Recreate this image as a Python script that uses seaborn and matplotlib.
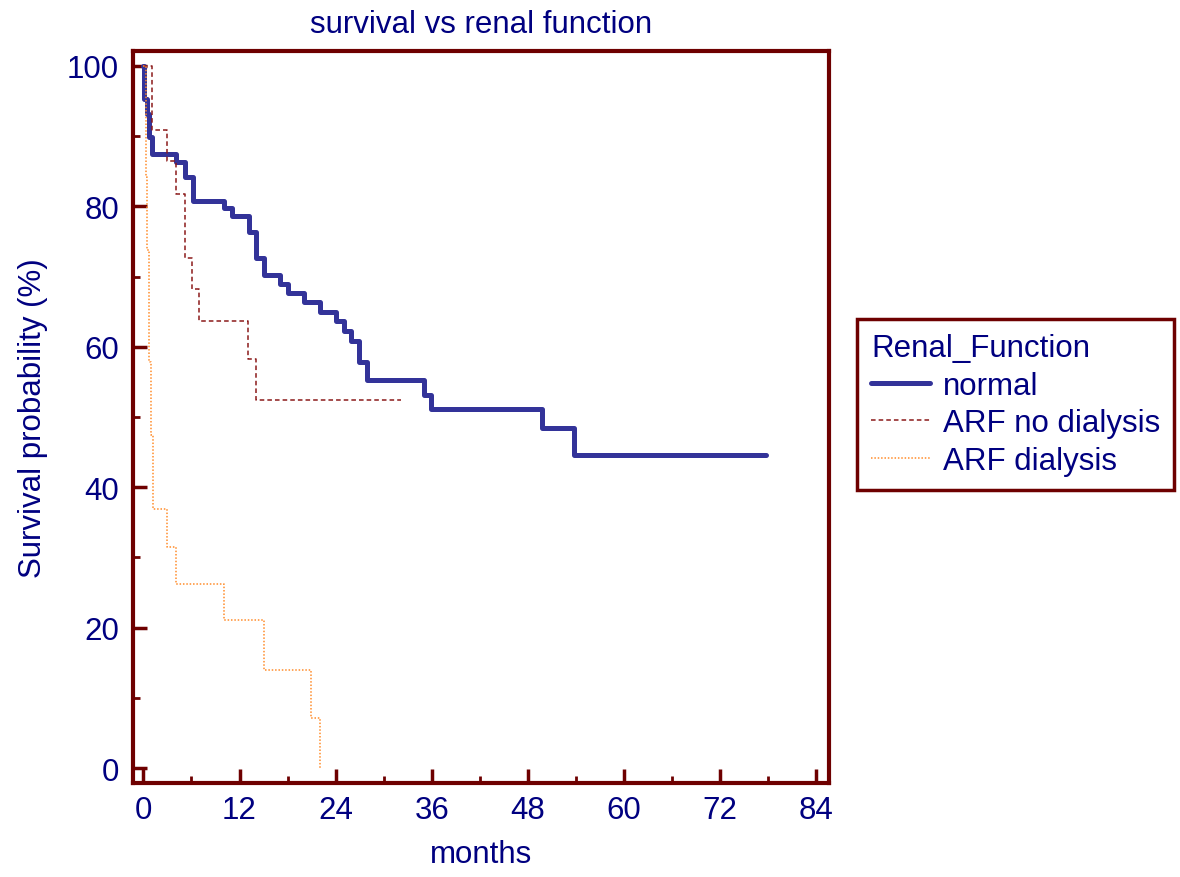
import matplotlib
matplotlib.use("Agg")
import matplotlib.pyplot as plt
from matplotlib.ticker import MultipleLocator
import seaborn as sns
import pandas as pd

# ---- data ----
normal_months = [0, 0.1, 0.4, 0.7, 1.06, 4.05, 5.2, 6.25, 10.06, 11.0, 13.2, 14.1, 15.0,
                 17.0, 18.0, 20.0, 22.0, 24.1, 25.0, 25.9, 26.9, 27.9, 35.0, 35.9,
                 49.8, 53.8, 77.7]
normal_surv = [100, 95.3, 93.2, 89.8, 87.4, 86.3, 84.2, 80.8, 79.7, 78.6, 76.3, 72.7, 70.2,
               69.0, 67.7, 66.4, 65.0, 63.7, 62.2, 60.8, 57.9, 55.3, 53.2, 51.1,
               48.5, 44.6, 44.6]

nodial_months = [0, 1.06, 3.0, 4.05, 5.2, 6.1, 7.0, 13.1, 14.1, 32.1]
nodial_surv = [100, 90.9, 86.4, 81.8, 72.7, 68.2, 63.6, 58.3, 52.4, 52.4]

dial_months = [0, 0.3, 0.5, 0.7, 0.95, 1.15, 3.0, 4.05, 10.0, 15.0, 20.9, 22.1]
dial_surv = [100, 84.2, 73.8, 57.9, 47.4, 36.9, 31.5, 26.2, 21.1, 14.0, 7.1, 0.0]

group_labels = ["normal", "ARF no dialysis", "ARF dialysis"]
x_ticks = [0, 12, 24, 36, 48, 60, 72, 84]
y_ticks = [0, 20, 40, 60, 80, 100]

title = "survival vs renal function"
x_label = "months"
y_label = "Survival probability (%)"
legend_title = "Renal_Function"

# ---- style ----
NAVY = "#000080"
FRAME = "#6e0000"
FS = 22.5
sns.set_theme(style="white")
plt.rcParams["font.family"] = ["Liberation Sans", "DejaVu Sans"]

fig = plt.figure(figsize=(11.8, 8.78), dpi=100)
ax = fig.add_axes([133 / 1180, 1 - 784 / 878, (829 - 133) / 1180, (784 - 52) / 878])

series = [
    (normal_months, normal_surv, dict(color="#333399", lw=3.6, linestyle="-")),
    (nodial_months, nodial_surv, dict(color="#8b1a1a", lw=1.1, linestyle=(0, (3, 2)))),
    (dial_months, dial_surv, dict(color="#ff8c2a", lw=1.1, linestyle=(0, (1, 1.2)))),
]
for (mx, sy, st), lab in zip(series, group_labels):
    df = pd.DataFrame({"months": mx, "surv": sy})
    sns.lineplot(data=df, x="months", y="surv", ax=ax, drawstyle="steps-post",
                 estimator=None, sort=False, label=lab, **st)

ax.set_xlim(-1.3, 85.6)
ax.set_ylim(-2.1, 102.1)
ax.xaxis.set_minor_locator(MultipleLocator(6))
ax.yaxis.set_minor_locator(MultipleLocator(10))
ax.set_xticks(x_ticks)
ax.set_yticks(y_ticks)
ax.set_xticklabels([str(v) for v in x_ticks])
ax.set_yticklabels([str(v) for v in y_ticks])

for side in ["left", "right", "top", "bottom"]:
    ax.spines[side].set_visible(True)
    ax.spines[side].set_color(FRAME)
    ax.spines[side].set_linewidth(3.0)

ax.tick_params(which="major", direction="in", length=10, width=2.5, color=FRAME,
               labelsize=FS, labelcolor=NAVY, pad=10, left=True, bottom=True)
ax.tick_params(which="minor", direction="in", length=5, width=2.0, color=FRAME,
               left=True, bottom=True)
ax.tick_params(axis="x", pad=9)

ax.set_title(title, fontsize=FS, color=NAVY, pad=14)
ax.set_xlabel(x_label, fontsize=FS, color=NAVY, labelpad=10)
ax.set_ylabel(y_label, fontsize=FS, color=NAVY, labelpad=14)

leg = ax.legend(title=legend_title, loc="upper left",
                bbox_to_anchor=(857 / 1180, 1 - 320 / 878), bbox_transform=fig.transFigure,
                borderaxespad=0, fontsize=FS, title_fontsize=FS, frameon=True,
                fancybox=False, framealpha=1.0, handlelength=1.9, handletextpad=0.4,
                labelspacing=0.24, borderpad=0.45, alignment="left")
leg.get_frame().set_edgecolor(FRAME)
leg.get_frame().set_linewidth(2.5)
leg.get_title().set_color(NAVY)
for t in leg.get_texts():
    t.set_color(NAVY)

fig.savefig("out.png", dpi=100)
